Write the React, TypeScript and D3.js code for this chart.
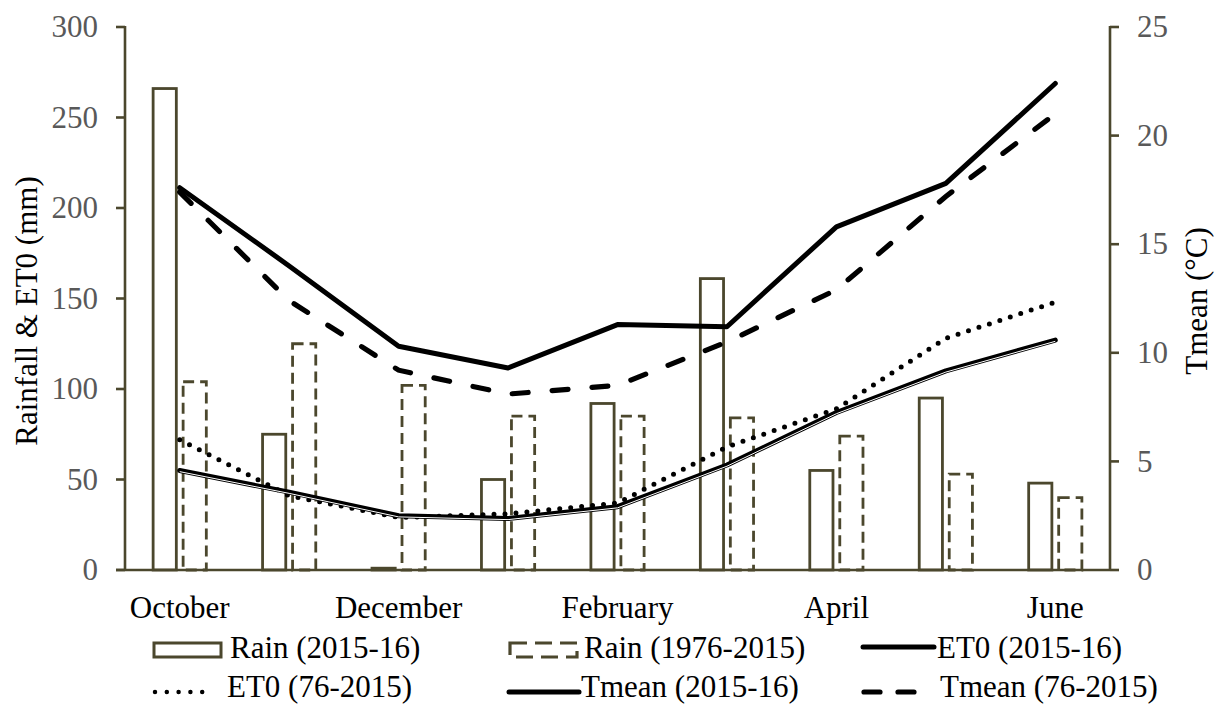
import React, { useEffect, useRef } from 'react';
import * as d3 from 'd3';

// monthly values
const months = ['October', 'November', 'December', 'January', 'February', 'March', 'April', 'May', 'June'];
const rain2015 = [266, 75, 1, 50, 92, 161, 55, 95, 48];
const rainLong = [104, 125, 102, 85, 85, 84, 74, 53, 40];
const et02015 = [55, 43, 30, 28.5, 35, 58, 87, 110, 127];
const et0Long = [72, 41, 29, 31, 37, 68, 89, 128, 148];
const tmean2015 = [17.6, 14.0, 10.3, 9.3, 11.3, 11.2, 15.8, 17.8, 22.4];
const tmeanLong = [17.4, 12.4, 9.2, 8.1, 8.5, 10.5, 12.9, 17.2, 21.0];
const leftTicks = [0, 50, 100, 150, 200, 250, 300];
const rightTicks = [0, 5, 10, 15, 20, 25];

const olive = '#4b472d';
const font = '"Liberation Serif", "Times New Roman", serif';

export default function App() {
    const ref = useRef<SVGSVGElement>(null);

    useEffect(() => {
        const svg = d3.select(ref.current);
        svg.selectAll('*').remove();

        const left = 125, right = 1110, top = 27, bottom = 570;

        var x = d3.scaleBand().domain(months).range([left, right]);
        var xs = d3.scaleBand().domain(['a', 'b'])
            .range([x.bandwidth() / 2 - 28, x.bandwidth() / 2 + 28])
            .paddingInner(0.1333);
        var y = d3.scaleLinear().domain([0, 300]).range([bottom, top]);
        var y2 = d3.scaleLinear().domain([0, 25]).range([bottom, top]);
        const cx = (m: string) => (x(m) as number) + x.bandwidth() / 2;

        // bars
        const g = svg.append('g');
        g.selectAll('rect.rain')
            .data(rain2015)
            .join('rect')
            .attr('x', (d, i) => (x(months[i]) as number) + (xs('a') as number) + 1.4)
            .attr('y', d => y(d))
            .attr('width', xs.bandwidth() - 2.8)
            .attr('height', d => bottom - y(d))
            .attr('fill', 'white')
            .attr('stroke', olive)
            .attr('stroke-width', 2.8);

        g.selectAll('rect.rainlong')
            .data(rainLong)
            .join('rect')
            .attr('x', (d, i) => (x(months[i]) as number) + (xs('b') as number) + 1.4)
            .attr('y', d => y(d))
            .attr('width', xs.bandwidth() - 2.8)
            .attr('height', d => bottom - y(d))
            .attr('fill', 'none')
            .attr('stroke', olive)
            .attr('stroke-width', 2.8)
            .attr('stroke-dasharray', '11,6');

        // axes
        svg.append('line')
            .attr('x1', left).attr('x2', left).attr('y1', top - 1).attr('y2', bottom)
            .attr('stroke', olive).attr('stroke-width', 2.6);
        svg.append('line')
            .attr('x1', right).attr('x2', right).attr('y1', top - 1).attr('y2', bottom)
            .attr('stroke', olive).attr('stroke-width', 2.6);
        svg.append('line')
            .attr('x1', left - 9).attr('x2', right).attr('y1', bottom).attr('y2', bottom)
            .attr('stroke', olive).attr('stroke-width', 2.6);

        svg.selectAll('line.lt')
            .data(leftTicks)
            .join('line')
            .attr('x1', left - 9).attr('x2', left)
            .attr('y1', d => y(d)).attr('y2', d => y(d))
            .attr('stroke', olive).attr('stroke-width', 2.6);
        svg.selectAll('text.lt')
            .data(leftTicks)
            .join('text')
            .attr('x', 98).attr('y', d => y(d)).attr('dy', '0.33em')
            .attr('text-anchor', 'end')
            .attr('font-family', font).attr('font-size', 31).attr('fill', '#595959')
            .text(d => d);

        svg.selectAll('line.rt')
            .data(rightTicks)
            .join('line')
            .attr('x1', right).attr('x2', right + 9)
            .attr('y1', d => y2(d)).attr('y2', d => y2(d))
            .attr('stroke', olive).attr('stroke-width', 2.6);
        svg.selectAll('text.rt')
            .data(rightTicks)
            .join('text')
            .attr('x', 1137).attr('y', d => y2(d)).attr('dy', '0.33em')
            .attr('font-family', font).attr('font-size', 31).attr('fill', '#595959')
            .text(d => d);

        // month labels, every other
        svg.selectAll('text.mon')
            .data(months.filter((m, i) => i % 2 === 0))
            .join('text')
            .attr('x', d => cx(d)).attr('y', 618)
            .attr('text-anchor', 'middle')
            .attr('font-family', font).attr('font-size', 31).attr('fill', 'black')
            .text(d => d);

        // axis titles
        svg.append('text')
            .attr('transform', 'translate(37,311) rotate(-90)')
            .attr('text-anchor', 'middle')
            .attr('font-family', font).attr('font-size', 31)
            .text('Rainfall & ET0 (mm)');
        svg.append('text')
            .attr('transform', 'translate(1207,301) rotate(-90)')
            .attr('text-anchor', 'middle')
            .attr('font-family', font).attr('font-size', 31)
            .text('Tmean (°C)');

        // lines
        const lineL = d3.line<number>().x((d, i) => cx(months[i])).y(d => y(d));
        const lineR = d3.line<number>().x((d, i) => cx(months[i])).y(d => y2(d));

        svg.append('path').datum(et0Long)
            .attr('d', lineL).attr('fill', 'none')
            .attr('stroke', 'black').attr('stroke-width', 5)
            .attr('stroke-linecap', 'round').attr('stroke-dasharray', '0,11');

        svg.append('path').datum(et02015)
            .attr('d', lineL).attr('fill', 'none')
            .attr('stroke', 'black').attr('stroke-width', 5)
            .attr('stroke-linejoin', 'round').attr('stroke-linecap', 'round');
        svg.append('path').datum(et02015)
            .attr('d', lineL).attr('fill', 'none')
            .attr('transform', 'translate(0,1.2)')
            .attr('stroke', 'white').attr('stroke-width', 1);

        svg.append('path').datum(tmeanLong)
            .attr('d', lineR).attr('fill', 'none')
            .attr('stroke', 'black').attr('stroke-width', 5.2)
            .attr('stroke-linecap', 'round').attr('stroke-dasharray', '16,24');

        svg.append('path').datum(tmean2015)
            .attr('d', lineR).attr('fill', 'none')
            .attr('stroke', 'black').attr('stroke-width', 5)
            .attr('stroke-linejoin', 'round').attr('stroke-linecap', 'round');

        // legend
        const leg = svg.append('g').attr('font-family', font).attr('font-size', 31);
        const row1 = 658, row2 = 697;

        leg.append('rect').attr('x', 154).attr('y', 643).attr('width', 67).attr('height', 14)
            .attr('fill', 'white').attr('stroke', olive).attr('stroke-width', 3);
        leg.append('text').attr('x', 230).attr('y', row1).text('Rain (2015-16)');

        leg.append('rect').attr('x', 510).attr('y', 643).attr('width', 67).attr('height', 14)
            .attr('fill', 'none').attr('stroke', olive).attr('stroke-width', 3.2)
            .attr('stroke-dasharray', '17,8');
        leg.append('text').attr('x', 584).attr('y', row1).text('Rain (1976-2015)');

        leg.append('line').attr('x1', 863).attr('x2', 934).attr('y1', 647).attr('y2', 647)
            .attr('stroke', 'black').attr('stroke-width', 5).attr('stroke-linecap', 'round');
        leg.append('text').attr('x', 937).attr('y', row1).text('ET0 (2015-16)');

        leg.append('line').attr('x1', 155).attr('x2', 214).attr('y1', 692).attr('y2', 692)
            .attr('stroke', 'black').attr('stroke-width', 4.5)
            .attr('stroke-linecap', 'round').attr('stroke-dasharray', '0,11.8');
        leg.append('text').attr('x', 227).attr('y', row2).text('ET0 (76-2015)');

        leg.append('line').attr('x1', 509).attr('x2', 579).attr('y1', 692).attr('y2', 692)
            .attr('stroke', 'black').attr('stroke-width', 5).attr('stroke-linecap', 'round');
        leg.append('text').attr('x', 581).attr('y', row2).text('Tmean (2015-16)');

        leg.append('line').attr('x1', 864).attr('x2', 916).attr('y1', 692).attr('y2', 692)
            .attr('stroke', 'black').attr('stroke-width', 5.2)
            .attr('stroke-linecap', 'round').attr('stroke-dasharray', '16,18');
        leg.append('text').attr('x', 940).attr('y', row2).text('Tmean (76-2015)');
    }, []);

    return (
        <svg ref={ref} width={1220} height={707}
            style={{ position: 'absolute', left: 0, top: 0, background: 'white' }} />
    );
}
